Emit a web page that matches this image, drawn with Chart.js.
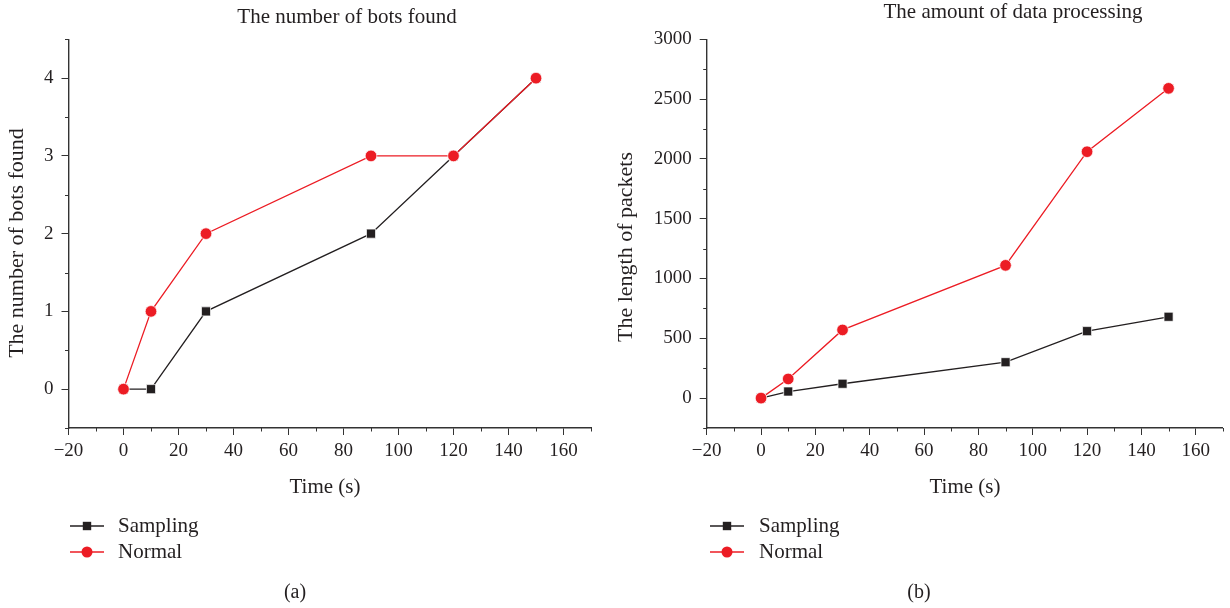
<!DOCTYPE html>
<html><head><meta charset="utf-8">
<script src="https://cdn.jsdelivr.net/npm/chart.js@4.4.0/dist/chart.umd.min.js"></script>
<style>
html,body{margin:0;padding:0;background:#fff;}
#wrap{position:relative;width:1230px;height:608px;background:#fff;}
canvas{position:absolute;top:0;}
</style></head><body>
<div id="wrap"><canvas id="c1" width="615" height="608" style="left:0"></canvas><canvas id="c2" width="615" height="608" style="left:615px"></canvas></div>
<script>
// ---- data ----
const timeSeconds = [0, 10, 30, 90, 120, 150];
const botsSampling = [0, 0, 1, 2, 3, 4];
const botsNormal = [0, 1, 2, 3, 3, 4];
const packetsSampling = [0, 55, 120, 300, 560, 680];
const packetsNormal = [0, 160, 570, 1110, 2060, 2590];
const seriesNames = ['Sampling', 'Normal'];
const xTickValues = [-20, 0, 20, 40, 60, 80, 100, 120, 140, 160];
const xMinorTicks = [-10, 10, 30, 50, 70, 90, 110, 130, 150, 170];
const botsTicks = [0, 1, 2, 3, 4];
const botsMinor = [-0.5, 0.5, 1.5, 2.5, 3.5, 4.5];
const packetTicks = [0, 500, 1000, 1500, 2000, 2500, 3000];
const packetMinor = [-250, 250, 750, 1250, 1750, 2250, 2750];

const FONT = '"Liberation Serif", "Times New Roman", serif';
const AXIS = '#333333';
const TEXT = '#231f20';
const RED = '#ec1c24';
const BLACK = '#231f20';

const fmt = v => v < 0 ? '\u2212' + (-v) : String(v);
const pts = arr => timeSeconds.map((t, i) => ({x: t, y: arr[i]}));

const decor = {
  id: 'decor',
  afterDraw(chart, args, o) {
    const ctx = chart.ctx, ca = chart.chartArea;
    const xs = chart.scales.x, ys = chart.scales.y;
    ctx.save();
    ctx.strokeStyle = AXIS; ctx.lineWidth = 1;
    o.minorX.forEach(v => {
      const px = Math.round(xs.getPixelForValue(v)) + 0.5;
      ctx.beginPath(); ctx.moveTo(px, ca.bottom); ctx.lineTo(px, ca.bottom + 3.5); ctx.stroke();
    });
    o.minorY.forEach(v => {
      const py = Math.round(ys.getPixelForValue(v)) + 0.5;
      ctx.beginPath(); ctx.moveTo(ca.left, py); ctx.lineTo(ca.left - 3.5, py); ctx.stroke();
    });
    ctx.fillStyle = TEXT;
    ctx.textAlign = 'center'; ctx.textBaseline = 'middle';
    ctx.font = '21px ' + FONT;
    ctx.fillText(o.title, o.titleX, o.titleY);
    ctx.fillText('Time (s)', o.xTitleX, o.xTitleY);
    ctx.font = '20px ' + FONT;
    ctx.fillText(o.caption, o.capX, o.capY);
    ctx.save();
    ctx.translate(o.yTitleX, o.yTitleY); ctx.rotate(-Math.PI / 2);
    ctx.font = '22px ' + FONT;
    ctx.fillText(o.yTitle, 0, 0);
    ctx.restore();
    // legend
    const order = [1, 0];
    order.forEach((di, k) => {
      const ds = chart.data.datasets[di];
      const y = o.legendY + k * 26;
      ctx.strokeStyle = ds.borderColor; ctx.lineWidth = 1.3;
      ctx.beginPath(); ctx.moveTo(o.legendX, y); ctx.lineTo(o.legendX + 34, y); ctx.stroke();
      ctx.fillStyle = ds.pointBackgroundColor;
      const cx = o.legendX + 17;
      if (ds.pointStyle === 'rect') { ctx.fillRect(cx - 4.2, y - 4.2, 8.4, 8.4); }
      else { ctx.beginPath(); ctx.arc(cx, y, 5.5, 0, Math.PI * 2); ctx.fill(); }
      ctx.fillStyle = TEXT; ctx.textAlign = 'left'; ctx.font = '21px ' + FONT;
      ctx.fillText(ds.label, o.legendTextX, y);
    });
    ctx.restore();
  }
};

function makeChart(id, sampling, normal, yMin, yMax, yTicks, opts) {
  return new Chart(document.getElementById(id), {
    type: 'line',
    data: {
      datasets: [
        {label: seriesNames[1], data: pts(normal), order: 0, borderColor: RED, backgroundColor: RED,
         pointBackgroundColor: RED, pointBorderColor: '#fff', pointBorderWidth: 0.7, pointStyle: 'circle', pointRadius: 5.8, borderWidth: 1.3, tension: 0},
        {label: seriesNames[0], data: pts(sampling), order: 1, borderColor: BLACK, backgroundColor: BLACK,
         pointBackgroundColor: BLACK, pointBorderColor: '#fff', pointBorderWidth: 0.7, pointStyle: 'rect', pointRadius: 6.4, borderWidth: 1.3, tension: 0}
      ]
    },
    options: {
      responsive: false, animation: false, devicePixelRatio: 1,
      layout: {padding: {left: 0, top: 39.3, right: opts.padRight, bottom: 140}},
      plugins: {legend: {display: false}, tooltip: {enabled: false}, decor: opts.decor},
      scales: {
        x: {type: 'linear', min: -20, max: 170,
            afterBuildTicks: s => { s.ticks = xTickValues.map(v => ({value: v})); },
            afterFit: s => { s.height = 40; },
            grid: {drawOnChartArea: false, drawTicks: true, tickLength: 7, color: AXIS, tickWidth: 1},
            border: {display: true, color: AXIS, width: 1.4},
            ticks: {font: {family: FONT, size: 19}, color: TEXT, padding: 5, maxRotation: 0, autoSkip: false, callback: fmt}},
        y: {type: 'linear', min: yMin, max: yMax,
            afterBuildTicks: s => { s.ticks = yTicks.map(v => ({value: v})); },
            afterFit: s => { s.width = opts.yWidth; },
            grid: {drawOnChartArea: false, drawTicks: true, tickLength: 7, color: AXIS, tickWidth: 1},
            border: {display: true, color: AXIS, width: 1.4},
            ticks: {font: {family: FONT, size: 19}, color: TEXT, padding: 8, autoSkip: false, callback: fmt}}
      }
    },
    plugins: [decor]
  });
}

makeChart('c1', botsSampling, botsNormal, -0.5, 4.5, botsTicks, {
  padRight: 24, yWidth: 68.5,
  decor: {title: 'The number of bots found', titleX: 347, titleY: 17,
          yTitle: 'The number of bots found', yTitleX: 17, yTitleY: 243,
          xTitleX: 325, xTitleY: 487, caption: '(a)', capX: 295, capY: 593,
          legendX: 70, legendY: 526, legendTextX: 118,
          minorX: xMinorTicks, minorY: botsMinor}
});
makeChart('c2', packetsSampling, packetsNormal, -250, 3000, packetTicks, {
  padRight: 1.5, yWidth: 91.7,
  decor: {title: 'The amount of data processing', titleX: 398, titleY: 12,
          yTitle: 'The length of packets', yTitleX: 11.7, yTitleY: 247,
          xTitleX: 350, xTitleY: 487, caption: '(b)', capX: 304, capY: 593,
          legendX: 95, legendY: 526, legendTextX: 144,
          minorX: xMinorTicks, minorY: packetMinor}
});
</script>
</body></html>
